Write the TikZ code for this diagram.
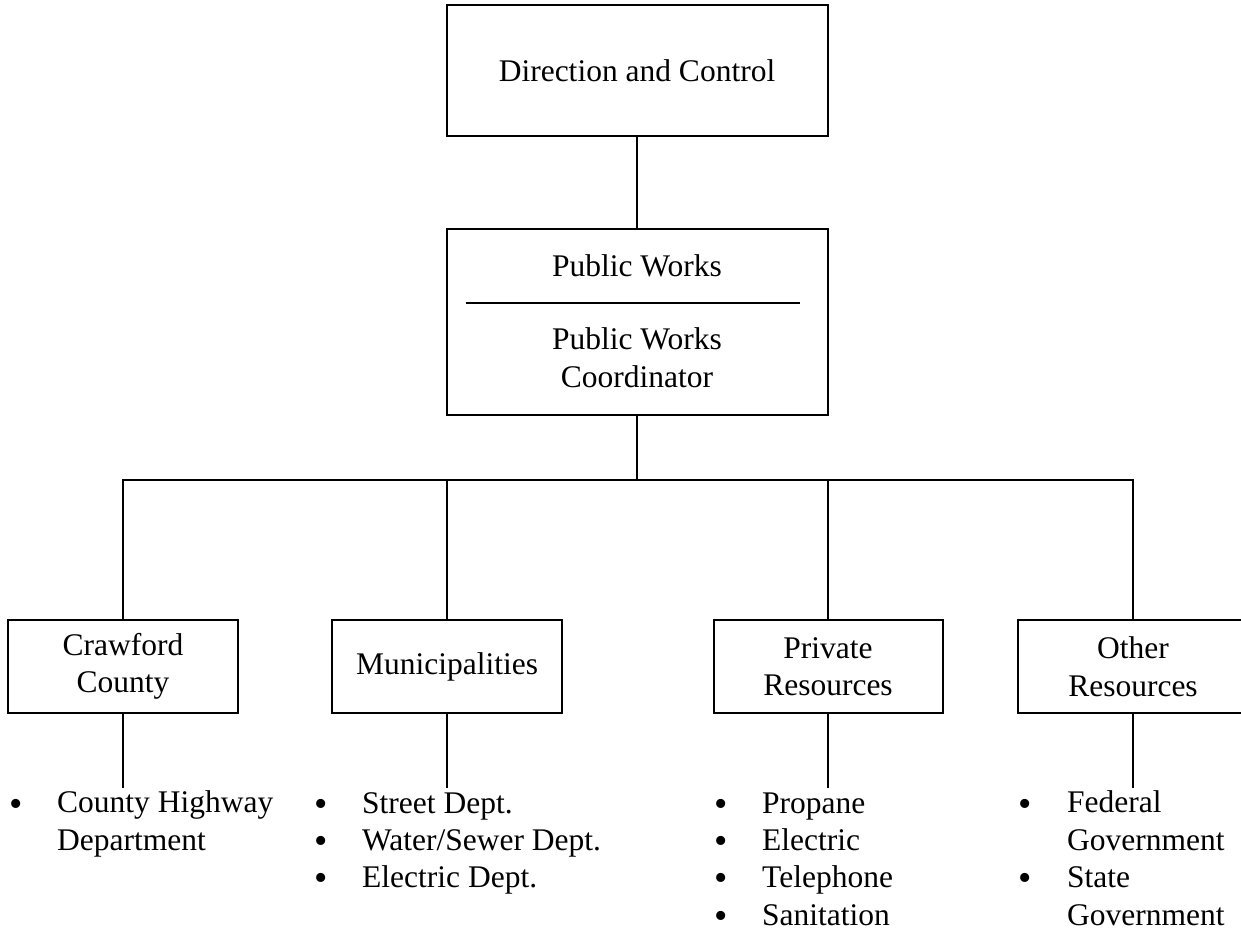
\documentclass[tikz,border=0pt]{standalone}
\usepackage{fontspec}
\setmainfont{Liberation Serif}
\begin{document}
\begin{tikzpicture}[x=1pt,y=-1pt,
  every node/.style={font=\fontsize{31.5}{37.5}\selectfont},
  box/.style={draw, line width=2pt, align=center, inner sep=0pt},
  wire/.style={line width=2pt},
  txt/.style={inner sep=0pt, align=left, anchor=base west},
  dot/.style={inner sep=0pt, anchor=base, yshift=-3pt, font=\fontsize{38}{37.5}\selectfont}
]
\useasboundingbox (0,0) rectangle (1241,935);

% top level
\node[box, minimum width=381pt, minimum height=131pt] (dc) at (637,70.5) {Direction and Control};

% public works box with its inner rule
\node[box, minimum width=381pt, minimum height=186pt] (pw) at (637,322) {};
\node[inner sep=0pt, anchor=base] (pwt) at (637,276) {Public Works};
\draw[wire] (466,303) -- (800,303);
% multi-line nodes are anchored on the baseline of their last line
\node[inner sep=0pt, anchor=base, align=center] (pwc) at (637,387) {Public Works\\Coordinator};

% second level boxes
\node[box, minimum width=230pt, minimum height=93pt] (cc) at (123,666.5) {Crawford\\County};
\node[box, minimum width=230pt, minimum height=93pt] (mu) at (447,666.5) {Municipalities};
\node[box, minimum width=229pt, minimum height=93pt] (pr) at (828,666.5) {Private\\Resources};
\node[box, minimum width=230pt, minimum height=93pt] (ot) at (1133,666.5) {Other\\Resources};

% tree connectors
\draw[wire] (dc.south) -- (pw.north);
\coordinate (bar) at (637,480);
\draw[wire] (pw.south) -- (bar);
\draw[wire] (cc.north) |- (bar) -| (ot.north);
\draw[wire] (mu.north) -- (mu.north |- bar);
\draw[wire] (pr.north) -- (pr.north |- bar);

% list stems
\coordinate (ccl) at (123,788);
\coordinate (mul) at (447,788);
\coordinate (prl) at (828,788);
\coordinate (otl) at (1133,788);
\draw[wire] (cc.south) -- (ccl);
\draw[wire] (mu.south) -- (mul);
\draw[wire] (pr.south) -- (prl);
\draw[wire] (ot.south) -- (otl);

% Crawford County list
\node[dot] (ccb1) at (16,813) {•};
\node[txt] (cct1) at (57,850) {County Highway\\Department};

% Municipalities list
\node[dot] (mub1) at (321,813) {•};
\node[dot] (mub2) at (321,850) {•};
\node[dot] (mub3) at (321,887) {•};
\node[txt] (mut1) at (362,813) {Street Dept.};
\node[txt] (mut2) at (362,850) {Water/Sewer Dept.};
\node[txt] (mut3) at (362,887) {Electric Dept.};

% Private Resources list
\node[dot] (prb1) at (721,813) {•};
\node[dot] (prb2) at (721,850) {•};
\node[dot] (prb3) at (721,887) {•};
\node[dot] (prb4) at (721,925) {•};
\node[txt] (prt1) at (762,813) {Propane};
\node[txt] (prt2) at (762,850) {Electric};
\node[txt] (prt3) at (762,887) {Telephone};
\node[txt] (prt4) at (762,925) {Sanitation};

% Other Resources list
\node[dot] (otb1) at (1025,813) {•};
\node[dot] (otb2) at (1025,887) {•};
\node[txt] (ott1) at (1067,850) {Federal\\Government};
\node[txt] (ott2) at (1067,925) {State\\Government};
\end{tikzpicture}
\end{document}
